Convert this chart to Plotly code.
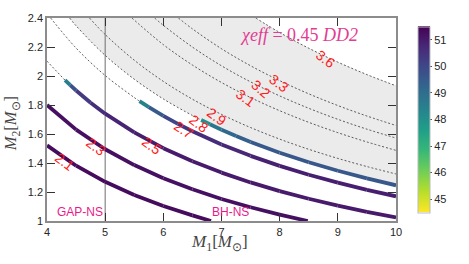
import plotly.graph_objects as go

# ---------------- data ----------------
x_range = [4, 10]
y_range = [1, 2.4]
x_ticks = [4, 5, 6, 7, 8, 9, 10]
y_ticks = [1, 1.2, 1.4, 1.6, 1.8, 2, 2.2, 2.4]
y_tick_text = ["1", "1.2", "1.4", "1.6", "1.8", "2", "2.2", "2.4"]
cbar_range = [44.5, 51.5]
cbar_ticks = [45, 46, 47, 48, 49, 50, 51]
gap_boundary = 5

# solid (coloured) contour pieces: x, y, colour value
c21_x = [4.0, 4.5, 5.0, 5.5, 6.0, 6.5, 6.82]
c21_y = [1.5215, 1.3813, 1.27, 1.1792, 1.1032, 1.039, 1.0]
c21_c = [51.3, 51.3, 51.3, 51.3, 51.3, 51.3, 51.3]

c23_x = [4.0, 4.5, 5.0, 5.5, 6.0, 6.5, 7.0, 7.5, 8.0, 8.483]
c23_y = [1.80, 1.6299, 1.495, 1.3858, 1.2951, 1.2185, 1.152, 1.0946, 1.0437, 1.0]
c23_c = [51.2, 51.2, 51.2, 51.2, 51.2, 51.2, 51.2, 51.2, 51.2, 51.2]

c25_x = [4.31, 4.4, 4.5, 4.75, 5.0, 5.5, 6.0, 6.5, 7.0, 7.5, 8.0, 8.5, 9.0, 9.5, 10.0]
c25_y = [1.971, 1.9366, 1.90, 1.8154, 1.7402, 1.6108, 1.5023, 1.4116, 1.3338,
         1.266, 1.2064, 1.1535, 1.106, 1.0636, 1.0248]
c25_c = [47.6, 49.4, 50.1, 50.5, 50.7, 50.9, 51.0, 51.0, 51.0, 51.0, 51.0, 51.0,
         51.0, 51.0, 51.0]

c27_x = [5.59, 5.75, 6.0, 6.25, 6.5, 7.0, 7.5, 8.0, 8.5, 9.0, 9.5, 10.0]
c27_y = [1.8264, 1.7855, 1.7252, 1.6697, 1.6189, 1.5281, 1.4493, 1.3801, 1.3188,
         1.2642, 1.2149, 1.1703]
c27_c = [47.6, 49.3, 49.8, 50.2, 50.5, 50.7, 50.8, 50.9, 50.9, 50.9, 50.9, 50.9]

c28_x = [6.65, 6.8, 7.0, 7.25, 7.5, 8.0, 8.5, 9.0, 9.5, 10.0]
c28_y = [1.6967, 1.667, 1.6299, 1.586, 1.5453, 1.471, 1.4054, 1.3467, 1.294, 1.2462]
c28_c = [47.5, 48.5, 49.0, 49.3, 49.5, 49.6, 49.6, 49.6, 49.6, 49.6]

# dashed contour pieces
d25_x = [4.0, 4.31]
d25_y = [2.1024, 1.971]
d27_x = [4.063, 4.5, 5.0, 5.5, 5.59]
d27_y = [2.4, 2.1926, 2.0034, 1.8515, 1.8264]
d28_x = [4.389, 4.5, 5.0, 5.5, 6.0, 6.5, 6.65]
d28_y = [2.4, 2.3464, 2.1422, 1.9779, 1.8417, 1.7277, 1.6967]
d29_x = [4.73, 5.0, 5.5, 6.0, 6.5, 7.0, 7.5, 8.0, 8.5, 9.0, 9.5, 10.0]
d29_y = [2.4, 2.286, 2.1091, 1.9629, 1.8401, 1.7352, 1.6444, 1.5648, 1.4945,
         1.4318, 1.3754, 1.3243]
d31_x = [5.46, 6.0, 6.5, 7.0, 7.5, 8.0, 8.5, 9.0, 9.5, 10.0]
d31_y = [2.4, 2.2163, 2.0758, 1.9552, 1.8513, 1.7606, 1.6805, 1.6092, 1.5451, 1.4871]
d32_x = [5.85, 6.0, 6.5, 7.0, 7.5, 8.0, 8.5, 9.0, 9.5, 10.0]
d32_y = [2.4, 2.3496, 2.1996, 2.0703, 1.9596, 1.8627, 1.7774, 1.7014, 1.6333, 1.5717]
d33_x = [6.259, 6.5, 7.0, 7.5, 8.0, 8.5, 9.0, 9.5, 10.0]
d33_y = [2.4, 2.3251, 2.1879, 2.0706, 1.9679, 1.877, 1.7962, 1.7239, 1.6586]
d36_x = [7.588, 8.0, 8.5, 9.0, 9.5, 10.0]
d36_y = [2.4, 2.2999, 2.1915, 2.0956, 2.0097, 1.9325]

# contour labels
lab_text = ["2.1", "2.3", "2.5", "2.7", "2.8", "2.9", "3.1", "3.2", "3.3", "3.6"]
lab_x = [4.31, 4.85, 5.81, 6.36, 6.62, 6.93, 7.42, 7.68, 7.98, 8.79]
lab_y = [1.41, 1.51, 1.52, 1.63, 1.67, 1.72, 1.85, 1.91, 1.95, 2.12]
lab_ang = [38, 37, 37, 33, 37, 36, 36, 40, 37, 38]

# ---------------- colours ----------------
VIRIDIS = ["#440154", "#482878", "#3e4989", "#31688e", "#26828e",
           "#1f9e89", "#35b779", "#6ece58", "#b5de2b", "#fde725"]


def hex_to_rgb(h):
    h = h.lstrip("#")
    return tuple(int(h[i:i + 2], 16) for i in (0, 2, 4))


def viridis_r(v):
    # reversed viridis: low -> yellow, high -> purple
    t = (v - cbar_range[0]) / (cbar_range[1] - cbar_range[0])
    t = min(max(t, 0.0), 1.0)
    s = (1 - t) * (len(VIRIDIS) - 1)
    i = min(int(s), len(VIRIDIS) - 2)
    f = s - i
    a, b = hex_to_rgb(VIRIDIS[i]), hex_to_rgb(VIRIDIS[i + 1])
    r = [round(a[k] + (b[k] - a[k]) * f) for k in range(3)]
    return "rgb(%d,%d,%d)" % tuple(r)


fig = go.Figure()

# grey band between the 2.8 and 3.6 contours
band_x = d28_x + c28_x[1:] + [x_range[1]] + d36_x[::-1] + [d28_x[0]]
band_y = d28_y + c28_y[1:] + [d36_y[-1]] + d36_y[::-1] + [y_range[1]]
fig.add_trace(go.Scatter(x=band_x, y=band_y, fill="toself", fillcolor="#ebebeb",
                         line=dict(width=0), mode="lines", hoverinfo="skip",
                         showlegend=False))

# vertical GAP / BH boundary
fig.add_trace(go.Scatter(x=[gap_boundary, gap_boundary], y=y_range, mode="lines",
                         line=dict(color="#6e6e6e", width=1), showlegend=False,
                         hoverinfo="skip"))

# dashed contours
for dx, dy in [(d25_x, d25_y), (d27_x, d27_y), (d28_x, d28_y), (d29_x, d29_y),
               (d31_x, d31_y), (d32_x, d32_y), (d33_x, d33_y), (d36_x, d36_y)]:
    fig.add_trace(go.Scatter(x=dx, y=dy, mode="lines", line_shape="spline",
                             line=dict(color="#333333", width=0.8, dash="2px,2px"),
                             showlegend=False, hoverinfo="skip"))

# coloured solid contours (segment by segment)
for cx, cy, cc in [(c21_x, c21_y, c21_c), (c23_x, c23_y, c23_c),
                   (c25_x, c25_y, c25_c), (c27_x, c27_y, c27_c),
                   (c28_x, c28_y, c28_c)]:
    for i in range(len(cx) - 1):
        col = viridis_r(0.5 * (cc[i] + cc[i + 1]))
        fig.add_trace(go.Scatter(x=cx[i:i + 2], y=cy[i:i + 2], mode="lines",
                                 line=dict(color=col, width=3.8),
                                 showlegend=False, hoverinfo="skip"))

# colour bar
fig.add_trace(go.Scatter(
    x=[None], y=[None], mode="markers", showlegend=False,
    marker=dict(color=[cbar_range[0]], cmin=cbar_range[0], cmax=cbar_range[1],
                colorscale="Viridis", reversescale=True, showscale=True,
                colorbar=dict(x=1.034, xanchor="left", y=0.5, yanchor="middle",
                              len=1.015, lenmode="fraction", thickness=12,
                              tickvals=cbar_ticks, ticks="outside", ticklen=2,
                              tickcolor="#555555", outlinewidth=1,
                              outlinecolor="#bbbbbb",
                              tickfont=dict(size=11, color="#262626",
                                            family="Liberation Sans")))))

# contour labels
for t, x, y, a in zip(lab_text, lab_x, lab_y, lab_ang):
    fig.add_annotation(x=x, y=y, text=t, showarrow=False, textangle=a,
                       font=dict(color="#ff1a1a", size=14, family="Liberation Sans"))

fig.add_annotation(x=4.56, y=1.06, text="GAP-NS", showarrow=False,
                   font=dict(color="#e8198b", size=12, family="Liberation Sans"))
fig.add_annotation(x=7.15, y=1.06, text="BH-NS", showarrow=False,
                   font=dict(color="#e8198b", size=12, family="Liberation Sans"))
fig.add_annotation(x=8.34, y=2.28,
                   text="<i>χeff</i> = 0.45 <i>DD2</i>", showarrow=False,
                   font=dict(color="#e23d93", size=18, family="Liberation Serif"))

# axis titles
fig.add_annotation(xref="paper", yref="paper", x=0.494, y=-0.106,
                   xanchor="center", yanchor="middle", showarrow=False,
                   text="<i>M</i><sub>1</sub>[<i>M</i><sub>⊙</sub>]",
                   font=dict(size=17, family="Liberation Serif", color="#444444"))
fig.add_annotation(xref="paper", yref="paper", x=-0.104, y=0.48,
                   xanchor="center", yanchor="middle", showarrow=False,
                   textangle=-90,
                   text="<i>M</i><sub>2</sub>[<i>M</i><sub>⊙</sub>]",
                   font=dict(size=16.5, family="Liberation Serif", color="#444444"))

axis_common = dict(showline=True, linecolor="#8c8c8c", linewidth=1.5, mirror="ticks",
                   ticks="inside", ticklen=8, tickcolor="#333333", showgrid=False,
                   zeroline=False,
                   tickfont=dict(size=11, color="#262626", family="Liberation Sans"))

fig.update_layout(
    width=469, height=264,
    margin=dict(l=47, r=71, t=13, b=43),
    paper_bgcolor="white", plot_bgcolor="white",
    xaxis=dict(range=x_range, tickvals=x_ticks, **axis_common),
    yaxis=dict(range=y_range, tickvals=y_ticks, ticktext=y_tick_text, **axis_common),
)

fig.write_html("out.html", config={"displayModeBar": False},
               post_script="document.body.style.margin='0';"
                           "document.body.style.overflow='hidden';")
